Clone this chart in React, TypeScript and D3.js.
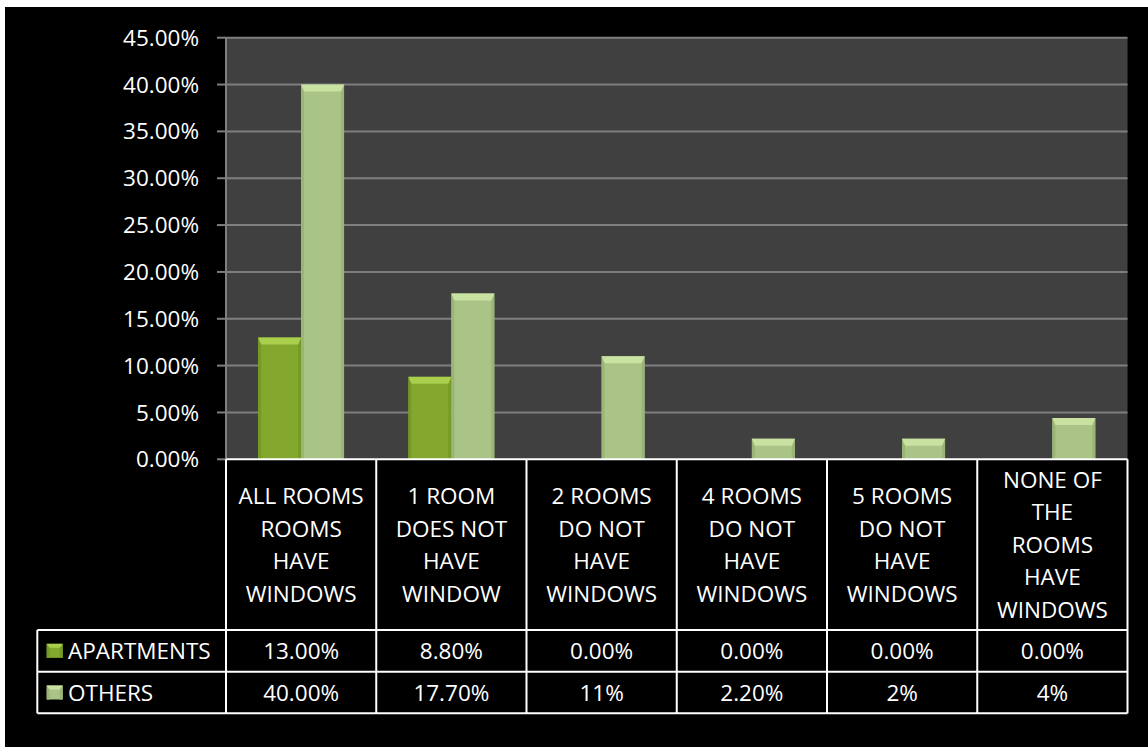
import React from "react";
import * as d3 from "d3";

const categories = [
  ["ALL ROOMS", "ROOMS", "HAVE", "WINDOWS"],
  ["1 ROOM", "DOES NOT", "HAVE", "WINDOW"],
  ["2 ROOMS", "DO NOT", "HAVE", "WINDOWS"],
  ["4 ROOMS", "DO NOT", "HAVE", "WINDOWS"],
  ["5 ROOMS", "DO NOT", "HAVE", "WINDOWS"],
  ["NONE OF", "THE", "ROOMS", "HAVE", "WINDOWS"],
];
const seriesNames = ["APARTMENTS", "OTHERS"];
const apartments = [13.0, 8.8, 0, 0, 0, 0];
const others = [40.0, 17.7, 11, 2.2, 2.2, 4.4];
const apartmentsLabels = ["13.00%", "8.80%", "0.00%", "0.00%", "0.00%", "0.00%"];
const othersLabels = ["40.00%", "17.70%", "11%", "2.20%", "2%", "4%"];
const yTicks = [0, 5, 10, 15, 20, 25, 30, 35, 40, 45];

const W = 1148;
const H = 747;
const FONT = "'Open Sans', sans-serif";
const FS = 22.5;

const palettes = [
  { main: "#84a82e", top: "#a9cf4c", side: "#769a26", bottom: "#6e8f22" },
  { main: "#a9c486", top: "#c9e2a2", side: "#9bb577", bottom: "#93ad70" },
];

function BevelRect({ x, y, w, h, p, bev = 7 }: any) {
  if (h <= 0.5) return null;
  const b = Math.min(bev, h / 2);
  const s = Math.min(3, w / 4);
  return (
    <g>
      <rect x={x} y={y} width={w} height={h} fill={p.main} />
      <polygon points={`${x},${y} ${x + s},${y + b} ${x + s},${y + h} ${x},${y + h}`} fill={p.side} />
      <polygon points={`${x + w},${y} ${x + w - s},${y + b} ${x + w - s},${y + h} ${x + w},${y + h}`} fill={p.side} />
      <polygon points={`${x},${y} ${x + w},${y} ${x + w - s},${y + b} ${x + s},${y + b}`} fill={p.top} />
    </g>
  );
}

export default function App() {
  const plotL = 226;
  const plotR = 1127.5;
  const plotT = 37.7;
  const plotB = 459.3;
  const headerB = 630;
  const row1B = 671.7;
  const row2B = 713.3;
  const tableL = 37.3;

  const y = d3.scaleLinear().domain([0, 45]).range([plotB, plotT]);
  const catIdx = categories.map((_, i) => String(i));
  const x0 = d3.scaleBand().domain(catIdx).range([plotL, plotR]).paddingInner(0).paddingOuter(0);
  const x1 = d3.scaleBand().domain(seriesNames).range([0, x0.bandwidth()]).paddingInner(0).paddingOuter(0.75);
  const seriesData = [apartments, others];
  const labelData = [apartmentsLabels, othersLabels];
  const rowMids = [(headerB + row1B) / 2, (row1B + row2B) / 2];
  const lineH = 32.5;

  return (
    <svg width={W} height={H} style={{ position: "absolute", left: 0, top: 0 }} fontFamily={FONT}>
      <rect x={0} y={0} width={W} height={H} fill="#ffffff" />
      <rect x={5} y={7} width={W - 5} height={H - 7} fill="#000000" />
      <rect x={plotL} y={plotT} width={plotR - plotL} height={plotB - plotT} fill="#404040" />
      {yTicks.filter((t) => t > 0).map((t) => (
        <line key={t} x1={plotL} x2={plotR} y1={y(t)} y2={y(t)} stroke="#7f7f7f" strokeWidth={2} />
      ))}
      <line x1={plotL} x2={plotL} y1={plotT} y2={plotB} stroke="#7f7f7f" strokeWidth={2} />
      {yTicks.map((t) => (
        <g key={t}>
          <line x1={plotL - 9} x2={plotL} y1={y(t)} y2={y(t)} stroke="#7f7f7f" strokeWidth={2} />
          <text x={199} y={y(t)} dy="0.36em" textAnchor="end" fill="#ffffff" fontSize={FS}>
            {t.toFixed(2) + "%"}
          </text>
        </g>
      ))}
      {seriesData.map((vals, si) =>
        vals.map((v, ci) => {
          const bx = (x0(String(ci)) as number) + (x1(seriesNames[si]) as number);
          return (
            <BevelRect key={`${si}-${ci}`} x={bx} y={y(v)} w={x1.bandwidth()} h={plotB - y(v)} p={palettes[si]} />
          );
        })
      )}
      <g stroke="#ffffff" strokeWidth={2}>
        <line x1={plotL} x2={plotR} y1={plotB} y2={plotB} />
        <line x1={tableL} x2={plotR} y1={headerB} y2={headerB} />
        <line x1={tableL} x2={plotR} y1={row1B} y2={row1B} />
        <line x1={tableL} x2={plotR} y1={row2B} y2={row2B} />
        <line x1={tableL} x2={tableL} y1={headerB} y2={row2B} />
        {catIdx.map((c) => (
          <line key={c} x1={x0(c)} x2={x0(c)} y1={plotB} y2={row2B} />
        ))}
        <line x1={plotR} x2={plotR} y1={plotB} y2={row2B} />
      </g>
      {categories.map((lines, ci) => {
        const cx = (x0(String(ci)) as number) + x0.bandwidth() / 2;
        const mid = (plotB + headerB) / 2;
        const start = mid - ((lines.length - 1) * lineH) / 2;
        return (
          <text key={ci} textAnchor="middle" fill="#ffffff" fontSize={FS}>
            {lines.map((ln, li) => (
              <tspan key={li} x={cx} y={start + li * lineH} dy="0.36em">
                {ln}
              </tspan>
            ))}
          </text>
        );
      })}
      {labelData.map((labels, si) =>
        labels.map((lab, ci) => (
          <text
            key={`${si}-${ci}`}
            x={(x0(String(ci)) as number) + x0.bandwidth() / 2}
            y={rowMids[si]}
            dy="0.36em"
            textAnchor="middle"
            fill="#ffffff"
            fontSize={FS}
          >
            {lab}
          </text>
        ))
      )}
      {seriesNames.map((name, si) => (
        <g key={name}>
          <BevelRect x={46.7} y={rowMids[si] - 7} w={16} h={14} p={palettes[si]} bev={4} />
          <text x={68} y={rowMids[si]} dy="0.36em" fill="#ffffff" fontSize={FS}>
            {name}
          </text>
        </g>
      ))}
    </svg>
  );
}
